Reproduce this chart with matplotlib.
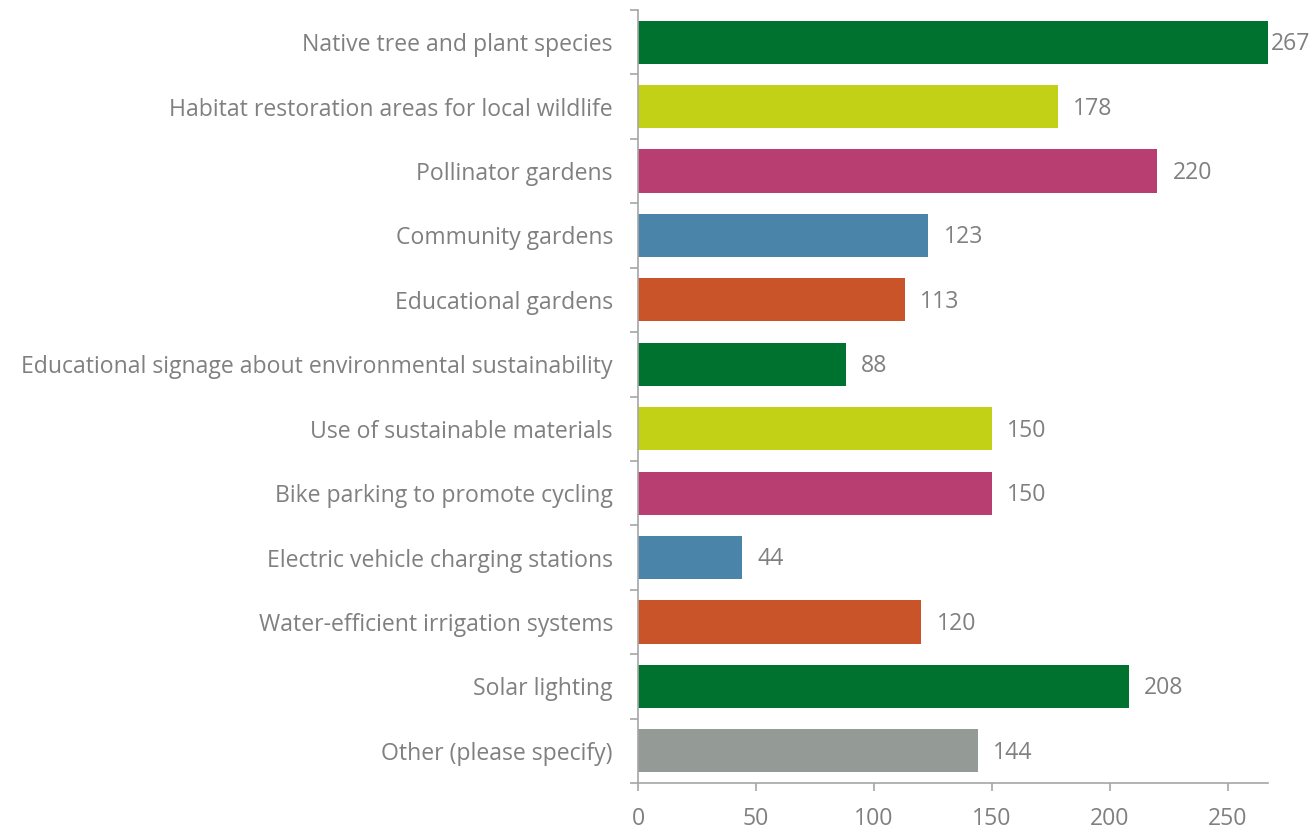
import matplotlib
matplotlib.use("Agg")
import matplotlib.pyplot as plt
import numpy as np

categories = [
    "Native tree and plant species",
    "Habitat restoration areas for local wildlife",
    "Pollinator gardens",
    "Community gardens",
    "Educational gardens",
    "Educational signage about environmental sustainability",
    "Use of sustainable materials",
    "Bike parking to promote cycling",
    "Electric vehicle charging stations",
    "Water-efficient irrigation systems",
    "Solar lighting",
    "Other (please specify)",
]
values = [267, 178, 220, 123, 113, 88, 150, 150, 44, 120, 208, 144]
colors = ["#00722F", "#C2D116", "#B83E71", "#4A84A8", "#C9542A", "#00722F",
          "#C2D116", "#B83E71", "#4A84A8", "#C9542A", "#00722F", "#949A96"]
xticks = [0, 50, 100, 150, 200, 250]

plt.rcParams['font.family'] = ['Open Sans', 'DejaVu Sans']
txt = '#808080'
spine = '#A6A6A6'
fs = 16.6

fig = plt.figure(figsize=(13.14, 8.33), dpi=100)
ax = fig.add_axes([0.4855, 0.06, 0.4795, 0.928])

y = np.arange(len(categories))
ax.barh(y, values, height=0.67, color=colors)
for yi, v in zip(y, values):
    # the longest bar hits the right edge, so its label hugs the bar
    ax.text(min(v + 6.5, 268.2), yi + 0.03, str(v), va='center', ha='left',
            fontsize=fs, color=txt)

ax.set_ylim(len(categories) - 0.5, -0.5)
ax.set_xlim(0, 267)
ax.set_yticks(y)
ax.set_yticklabels(categories, fontsize=fs, color=txt)
ax.tick_params(axis='y', which='major', length=0, pad=18)
ax.set_yticks(np.arange(len(categories) + 1) - 0.5, minor=True)
ax.tick_params(axis='y', which='minor', length=6, color=spine, width=1.2)

ax.set_xticks(xticks)
ax.set_xticklabels([str(t) for t in xticks], fontsize=fs, color=txt)
ax.tick_params(axis='x', length=6, color=spine, width=1.2, pad=11)

for s in ['top', 'right']:
    ax.spines[s].set_visible(False)
for s in ['left', 'bottom']:
    ax.spines[s].set_color(spine)
    ax.spines[s].set_linewidth(1.2)

fig.savefig("out.png", dpi=100)
